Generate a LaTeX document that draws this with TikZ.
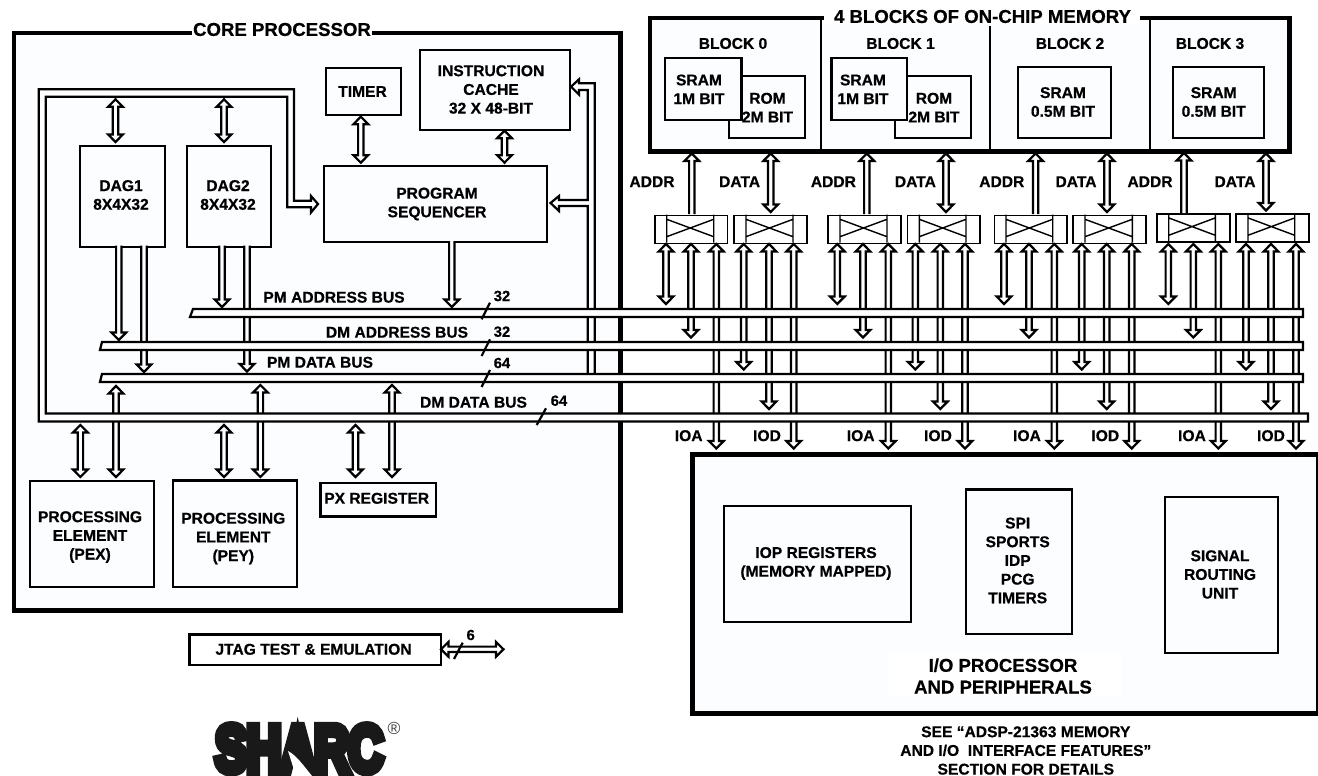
\documentclass[tikz,border=0pt]{standalone}
\usepackage{fontspec}
\setmainfont[BoldFeatures={FakeBold=0.6}]{Liberation Sans}
\newfontfamily\logofont[UprightFont=* Bold,FakeBold=14,LetterSpace=-2]{Liberation Sans}
\usetikzlibrary{calc}
\definecolor{panel}{HTML}{FCFDFF}
\tikzset{
  txt/.style={font=\fontsize{15.6}{18.7}\selectfont\bfseries,align=center,inner sep=0pt,text=black},
  bigtxt/.style={txt,font=\fontsize{18.6}{21.7}\selectfont\bfseries},
  numtxt/.style={txt,font=\fontsize{14.8}{17}\selectfont\bfseries},
  box/.style={draw=black,line width=2.2pt,inner sep=0pt,anchor=north west,line join=miter},
  panelbox/.style={box,line width=4.5pt,fill=panel},
  swbox/.style={box,line width=1.7pt},
  swline/.style={draw=black,line width=1.4pt},
  hbase/.style={draw=black,fill=white,line width=2.2pt,line join=miter,miter limit=6},
  bus/.style={hbase},
  slash/.style={draw=black,line width=2.2pt},
  hone/.style={hbase,to path={
    ($(\tikztostart)!2.7pt!90:(\tikztotarget)$)
    -- ($(\tikztotarget)!7.5pt!(\tikztostart)!2.7pt!90:(\tikztotarget)$)
    -- ($(\tikztotarget)!7.5pt!(\tikztostart)!7.4pt!90:(\tikztotarget)$)
    -- (\tikztotarget)
    -- ($(\tikztotarget)!7.5pt!(\tikztostart)!7.4pt!-90:(\tikztotarget)$)
    -- ($(\tikztotarget)!7.5pt!(\tikztostart)!2.7pt!-90:(\tikztotarget)$)
    -- ($(\tikztostart)!2.7pt!-90:(\tikztotarget)$)}},
  htwo/.style={hbase,to path={
    (\tikztostart)
    -- ($(\tikztostart)!7.5pt!(\tikztotarget)!7.4pt!90:(\tikztotarget)$)
    -- ($(\tikztostart)!7.5pt!(\tikztotarget)!2.7pt!90:(\tikztotarget)$)
    -- ($(\tikztotarget)!7.5pt!(\tikztostart)!2.7pt!90:(\tikztotarget)$)
    -- ($(\tikztotarget)!7.5pt!(\tikztostart)!7.4pt!90:(\tikztotarget)$)
    -- (\tikztotarget)
    -- ($(\tikztotarget)!7.5pt!(\tikztostart)!7.4pt!-90:(\tikztotarget)$)
    -- ($(\tikztotarget)!7.5pt!(\tikztostart)!2.7pt!-90:(\tikztotarget)$)
    -- ($(\tikztostart)!7.5pt!(\tikztotarget)!2.7pt!-90:(\tikztotarget)$)
    -- ($(\tikztostart)!7.5pt!(\tikztotarget)!7.4pt!-90:(\tikztotarget)$)
    -- cycle}},
}
% box from corners
\newcommand\bx[6][box]{\pgfmathsetmacro\bxw{#5-#3}\pgfmathsetmacro\bxh{#6-#4}%
  \node[#1,minimum width=\bxw pt,minimum height=\bxh pt] (#2) at (#3,#4) {};}
% text at centre
\newcommand\tx[5][txt]{\node[#1] (#2) at (#3,#4) {#5};}
% vertical connector through two named ends
\newcommand\vc[5]{\coordinate (#2a) at (#3,#4);\coordinate (#2b) at (#3,#5);\draw[#1] (#2a) to (#2b);}
% switch
\newcommand\sw[5]{\pgfmathsetmacro\swr{#2+72.5}\pgfmathsetmacro\swb{#3+28}\bx[swbox]{#1}{#2}{#3}{\swr}{\swb}%
  \draw[swline] (#4,#3) -- (#4,#3+28) (#5,#3) -- (#5,#3+28)
    (#4,#3+4.6) -- (#5,#3+22) (#4,#3+22) -- (#5,#3+4.6);}
\begin{document}
\begin{tikzpicture}[x=1pt,y=-1pt]
\useasboundingbox (0,0) rectangle (1318,776);
% ---- panels
\bx[panelbox]{core}{11.5}{31}{618}{608}
\bx[panelbox]{mem}{647.5}{16}{1287}{149}
\bx[panelbox]{iop}{690}{452}{1316}{711}
\fill[white] (192,20) rectangle (372,38);
\fill[white] (824,8) rectangle (1140,25);
\tx[bigtxt]{coretitle}{282}{29.5}{CORE PROCESSOR}
\tx[bigtxt]{memtitle}{982.5}{16.5}{4 BLOCKS OF ON-CHIP MEMORY}
% ---- memory blocks
\draw[line width=2pt] (821,18) -- (821,149) (989.6,26) -- (989.6,149) (1150,18) -- (1150,149);
\tx{b0}{733}{43.5}{BLOCK 0}
\tx{b1}{900.5}{43.5}{BLOCK 1}
\tx{b2}{1070}{43.5}{BLOCK 2}
\tx{b3}{1210}{43.5}{BLOCK 3}
\bx{rom0}{727.7}{74.7}{804}{136.7}
\bx[box,fill=panel]{sram0}{664}{57.3}{740.4}{119}
\tx{sram0t}{699}{89.3}{SRAM\\1M BIT}
\tx{rom0t}{767.5}{107.6}{ROM\\2M BIT}
\bx{rom1}{894}{74.7}{970}{136.7}
\bx[box,fill=panel]{sram1}{830.4}{57.3}{906}{119}
\tx{sram1t}{863}{89.3}{SRAM\\1M BIT}
\tx{rom1t}{934}{107.6}{ROM\\2M BIT}
\bx{sram2}{1017}{65.7}{1110}{136.7}
\tx{sram2t}{1063}{102}{SRAM\\0.5M BIT}
\bx{sram3}{1171.6}{65.7}{1263}{136.7}
\tx{sram3t}{1213.7}{102}{SRAM\\0.5M BIT}
% ---- core boxes
\bx{cache}{419}{48.7}{568.6}{128.7}
\tx{cachet}{491}{89.5}{INSTRUCTION\\CACHE\\32 X 48-BIT}
\bx{timer}{325}{67}{400}{114}
\tx{timert}{362.5}{91.5}{TIMER}
\bx{seq}{323}{165}{546}{241}
\tx{seqt}{437}{204}{PROGRAM\\SEQUENCER}
\bx{dag1}{79}{145}{163.7}{245.7}
\tx{dag1t}{121}{195}{DAG1\\8X4X32}
\bx{dag2}{185.7}{144.5}{270}{245.7}
\tx{dag2t}{228}{195}{DAG2\\8X4X32}
\bx{pex}{28.7}{480}{152.7}{586}
\tx{pext}{90}{537}{PROCESSING\\ELEMENT\\(PEX)}
\bx{pey}{171.7}{479.3}{295.7}{586}
\tx{peyt}{233.3}{538.5}{PROCESSING\\ELEMENT\\(PEY)}
\bx{px}{319.3}{481.7}{435}{515.3}
\tx{pxt}{376.7}{498.3}{PX REGISTER}
% ---- jtag
\bx{jtag}{188.3}{633.3}{440}{664}
\tx{jtagt}{313.5}{649.3}{JTAG TEST \& EMULATION}
\coordinate (ja) at (441,649.3);\coordinate (jb) at (503.5,649.3);
\draw[htwo] (ja) to (jb);
\draw[slash] (454,659) -- (462.7,642.7);
\tx[numtxt]{jn}{470.7}{635}{6}
% ---- io boxes
\bx{iopreg}{722.7}{505}{910}{620.7}
\tx{iopregt}{816}{563.5}{IOP REGISTERS\\(MEMORY MAPPED)}
\bx{spi}{964.8}{488.3}{1070.6}{632.7}
\tx{spit}{1017.7}{560.5}{SPI\\SPORTS\\IDP\\PCG\\TIMERS}
\bx{sru}{1164}{495.7}{1276.8}{652}
\tx{srut}{1220}{574.5}{SIGNAL\\ROUTING\\UNIT}
\fill[white] (887.5,653) rectangle (1121.4,696.7);
\tx[bigtxt]{iot}{1003}{676}{I/O PROCESSOR\\AND PERIPHERALS}
\tx{seet}{1025.8}{750.5}{SEE “ADSP-21363 MEMORY\\AND I/O\ \ INTERFACE FEATURES”\\SECTION FOR DETAILS}
% ---- core arrows
\vc{htwo}{c1}{115.5}{99.3}{142}
\vc{htwo}{c2}{224}{99.3}{142}
\vc{htwo}{c3}{360.8}{116.7}{162.7}
\vc{htwo}{c4}{504.5}{130.7}{162.7}
\vc{hone}{d1}{118.8}{245.7}{340}
\vc{hone}{d2}{144}{245.7}{372}
\vc{hone}{d3}{222}{245.7}{307}
\vc{hone}{d4}{247}{245.7}{371.5}
\vc{hone}{d5}{451.8}{241}{307}
\vc{htwo}{e1}{116}{386}{477}
\vc{htwo}{e2}{260.4}{385}{477}
\vc{htwo}{e3}{392}{385}{477}
\vc{htwo}{f1}{80.4}{425}{477}
\vc{htwo}{f2}{224}{425}{477}
\vc{htwo}{f3}{355.5}{425}{477}
% ---- feed to cache and sequencer
\draw[hbase] (594.7,376) -- (594.7,83.3) -- (579,83.3) -- (579,79.3) -- (571,86.7) -- (579,94.7) -- (579,90)
  -- (587.8,90) -- (587.8,200) -- (559,200) -- (559,196) -- (550.5,203) -- (559,211) -- (559,206)
  -- (587.8,206) -- (587.8,376);
% ---- switches
\sw{s1}{654}{214.7}{666.7}{713.7}
\sw{s2}{733.3}{214.7}{746}{793}
\sw{s3}{827.3}{214.7}{840}{887}
\sw{s4}{906.7}{214.7}{919.3}{966}
\sw{s5}{993.7}{214.7}{1006}{1052.7}
\sw{s6}{1072.3}{214.7}{1085}{1132.3}
\sw{s7}{1156.3}{213.3}{1168.7}{1215.3}
\sw{s8}{1235.3}{213.3}{1248}{1294.7}
% ---- arrows above switches
\vc{hone}{u1}{691.8}{214}{153.5}
\vc{htwo}{u2}{770.7}{153.5}{212}
\vc{hone}{u3}{866.8}{214}{153.5}
\vc{htwo}{u4}{946}{153.5}{212}
\vc{hone}{u5}{1035.6}{214}{153.5}
\vc{htwo}{u6}{1107}{153.5}{212}
\vc{hone}{u7}{1184}{213}{153}
\vc{htwo}{u8}{1266}{153.5}{210.5}
% ---- arrows below switches
\vc{htwo}{a1}{666}{244}{304}
\vc{htwo}{a2}{691}{244}{337.5}
\vc{htwo}{a3}{716.3}{244}{448.5}
\vc{htwo}{a4}{743.7}{244}{369.5}
\vc{htwo}{a5}{769}{244}{409}
\vc{htwo}{a6}{793.7}{244}{448.5}
\vc{htwo}{a7}{837.3}{244}{304}
\vc{htwo}{a8}{863}{244}{337.5}
\vc{htwo}{a9}{888.3}{244}{448.5}
\vc{htwo}{a10}{915.3}{244}{369.5}
\vc{htwo}{a11}{940.3}{244}{409}
\vc{htwo}{a12}{965}{244}{448.5}
\vc{htwo}{a13}{1004}{244}{304}
\vc{htwo}{a14}{1029}{244}{337.5}
\vc{htwo}{a15}{1054.3}{244}{448.5}
\vc{htwo}{a16}{1081.7}{244}{369.5}
\vc{htwo}{a17}{1106.7}{244}{409}
\vc{htwo}{a18}{1131.7}{244}{448.5}
\vc{htwo}{a19}{1168.3}{244}{304}
\vc{htwo}{a20}{1193.3}{244}{337.5}
\vc{htwo}{a21}{1218.3}{244}{448.5}
\vc{htwo}{a22}{1246}{244}{369.5}
\vc{htwo}{a23}{1271}{244}{409}
\vc{htwo}{a24}{1296}{244}{448.5}
% ---- buses
\draw[bus] (193,309) -- (1303,309) -- (1303,317) -- (190,317) -- cycle;
\draw[bus] (102,342) -- (1303,342) -- (1303,350) -- (100,350) -- cycle;
\draw[bus] (102,374) -- (1303,374) -- (1303,382) -- (100,382) -- cycle;
\draw[bus] (1308,421.5) -- (38.8,421.5) -- (38.8,89.3) -- (294,89.3) -- (294,200.7) -- (311,200.7) -- (311,196)
  -- (318,204) -- (311,212.5) -- (311,207.3) -- (287.3,207.3) -- (287.3,96.7) -- (45.7,96.7) -- (45.7,413.5)
  -- (1308,413.5) -- cycle;
\draw[slash] (490,302.7) -- (481.6,319.3) (490,339.3) -- (481.6,356) (490,370) -- (481.6,387)
  (546,408.3) -- (536.7,425);
\tx[numtxt]{n1}{502}{296}{32}
\tx[numtxt]{n2}{502}{331.7}{32}
\tx[numtxt]{n3}{502}{363}{64}
\tx[numtxt]{n4}{559}{400.7}{64}
\tx{l1}{334}{297.3}{PM ADDRESS BUS}
\tx{l2}{397}{332.3}{DM ADDRESS BUS}
\tx{l3}{320}{362.3}{PM DATA BUS}
\tx{l4}{473.5}{402.3}{DM DATA BUS}
% ---- signal labels
\tx{addr1}{652}{181.7}{ADDR}
\tx{addr2}{833.4}{181.7}{ADDR}
\tx{addr3}{1001.8}{181.7}{ADDR}
\tx{addr4}{1150}{181.7}{ADDR}
\tx{data1}{739.6}{181.7}{DATA}
\tx{data2}{915.4}{181.7}{DATA}
\tx{data3}{1076}{181.7}{DATA}
\tx{data4}{1235}{181.7}{DATA}
\tx{ioa1}{688.7}{435.7}{IOA}
\tx{iod1}{767}{435.7}{IOD}
\tx{ioa2}{860.7}{435.7}{IOA}
\tx{iod2}{938}{435.7}{IOD}
\tx{ioa3}{1027}{435.7}{IOA}
\tx{iod3}{1105.3}{435.7}{IOD}
\tx{ioa4}{1192}{435.7}{IOA}
\tx{iod4}{1271}{435.7}{IOD}
% ---- logo
\node[inner sep=0pt,anchor=north west,text=black!90] (logo) at (215,725.5)
  {\resizebox{168pt}{45.5pt}{\logofont SHARC}};
\fill[white] (288,751) .. controls (296,755) and (304,766) .. (312,776) -- (296,776) -- cycle;
\node[inner sep=0pt,text=black!75,font=\fontsize{17.5}{18}\selectfont] (reg) at (394,728) {®};
\end{tikzpicture}
\end{document}
